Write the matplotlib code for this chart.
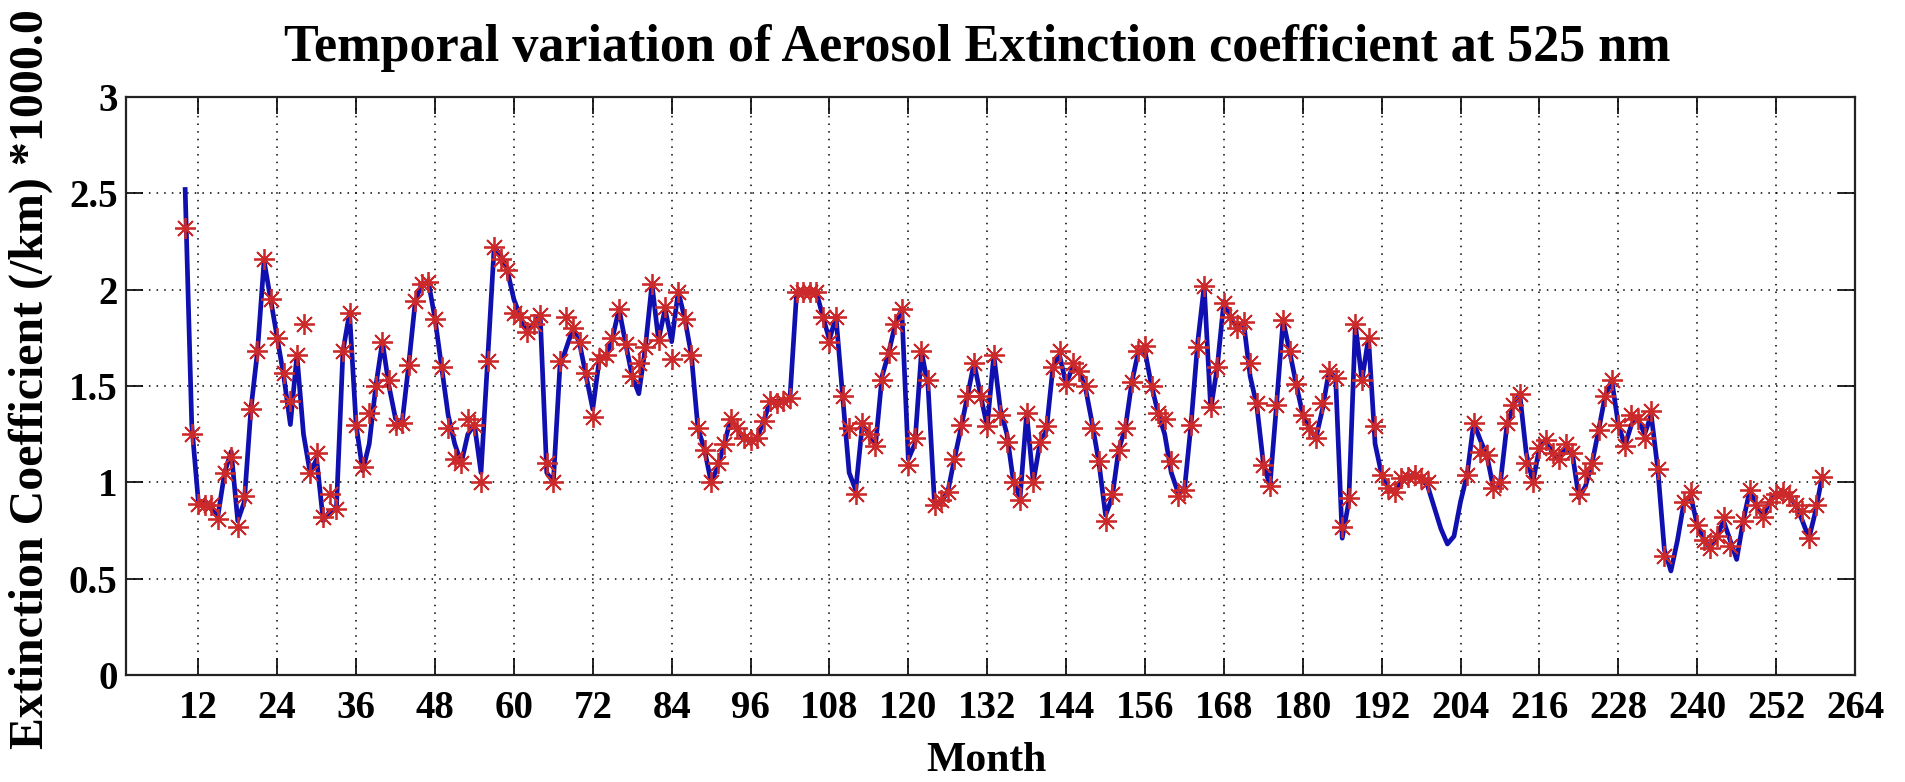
import numpy as np
import matplotlib
matplotlib.use("Agg")
import matplotlib.pyplot as plt

plt.rcParams['font.family'] = ['Liberation Serif', 'DejaVu Serif']
plt.rcParams['font.weight'] = 'bold'

# Month index of each monthly record
months = np.arange(10, 260)

# Fitted curve, one value per month (months 10..259)
curve = [
    2.52, 1.30, 0.90, 0.90, 0.86, 0.83, 1.05, 1.16, 0.80, 0.90,
    1.38, 1.68, 2.15, 1.95, 1.75, 1.55, 1.30, 1.66, 1.25, 1.05,
    1.12, 0.80, 0.85, 0.86, 1.68, 1.88, 1.30, 1.06, 1.20, 1.50,
    1.73, 1.50, 1.33, 1.31, 1.61, 1.94, 2.03, 2.04, 1.85, 1.60,
    1.35, 1.20, 1.10, 1.25, 1.30, 1.05, 1.63, 2.22, 2.18, 2.10,
    1.95, 1.86, 1.78, 1.82, 1.87, 1.05, 1.00, 1.60, 1.70, 1.80,
    1.72, 1.55, 1.38, 1.64, 1.65, 1.75, 1.90, 1.72, 1.55, 1.46,
    1.70, 2.03, 1.74, 1.90, 1.73, 1.99, 1.85, 1.66, 1.28, 1.17,
    1.00, 1.08, 1.20, 1.33, 1.28, 1.22, 1.22, 1.23, 1.32, 1.42,
    1.42, 1.42, 1.44, 1.98, 1.99, 1.99, 1.99, 1.86, 1.74, 1.86,
    1.45, 1.05, 0.96, 1.30, 1.25, 1.19, 1.55, 1.67, 1.82, 1.90,
    1.12, 1.20, 1.68, 1.50, 0.88, 0.90, 0.95, 1.12, 1.28, 1.45,
    1.62, 1.45, 1.29, 1.66, 1.38, 1.25, 1.00, 0.92, 1.36, 1.00,
    1.20, 1.27, 1.60, 1.66, 1.51, 1.60, 1.58, 1.48, 1.30, 1.10,
    0.83, 0.92, 1.17, 1.28, 1.52, 1.68, 1.68, 1.50, 1.36, 1.25,
    1.05, 0.95, 0.96, 1.30, 1.72, 2.02, 1.38, 1.60, 1.94, 1.86,
    1.80, 1.83, 1.55, 1.40, 1.10, 0.98, 1.40, 1.84, 1.68, 1.51,
    1.35, 1.28, 1.23, 1.38, 1.58, 1.54, 0.71, 0.90, 1.82, 1.53,
    1.75, 1.20, 1.04, 0.97, 0.95, 1.00, 1.03, 1.04, 1.02, 0.98,
    0.87, 0.76, 0.68, 0.72, 0.90, 1.04, 1.31, 1.22, 1.14, 0.97,
    0.98, 1.28, 1.40, 1.46, 1.15, 1.00, 1.18, 1.22, 1.15, 1.12,
    1.18, 1.15, 0.92, 0.98, 1.10, 1.27, 1.45, 1.53, 1.30, 1.19,
    1.30, 1.33, 1.25, 1.35, 1.07, 0.65, 0.54, 0.70, 0.90, 0.93,
    0.78, 0.70, 0.66, 0.72, 0.80, 0.70, 0.60, 0.80, 0.96, 0.88,
    0.82, 0.90, 0.94, 0.95, 0.93, 0.88, 0.80, 0.71, 0.85, 1.03,
]

# Measured monthly values (nan = no measurement that month)
nan = np.nan
measured = [
    2.32, 1.25, 0.89, 0.88, 0.88, 0.81, 1.05, 1.13, 0.77, 0.93,
    1.38, 1.68, 2.16, 1.95, 1.75, 1.57, 1.42, 1.66, 1.82, 1.05,
    1.15, 0.82, 0.94, 0.86, 1.68, 1.88, 1.30, 1.08, 1.36, 1.50,
    1.73, 1.53, 1.30, 1.31, 1.61, 1.94, 2.03, 2.04, 1.85, 1.60,
    1.28, 1.12, 1.10, 1.33, 1.30, 1.00, 1.63, 2.22, 2.16, 2.10,
    1.88, 1.86, 1.78, 1.82, 1.87, 1.10, 1.00, 1.63, 1.86, 1.80,
    1.73, 1.57, 1.34, 1.64, 1.66, 1.75, 1.90, 1.72, 1.55, 1.62,
    1.70, 2.03, 1.74, 1.91, 1.64, 1.99, 1.85, 1.66, 1.28, 1.17,
    1.00, 1.10, 1.20, 1.33, 1.28, 1.23, 1.22, 1.23, 1.32, 1.42,
    1.41, 1.42, 1.44, 1.99, 1.99, 1.99, 1.99, 1.86, 1.73, 1.86,
    1.45, 1.28, 0.94, 1.31, 1.25, 1.19, 1.53, 1.67, 1.82, 1.90,
    1.09, 1.23, 1.68, 1.53, 0.88, 0.91, 0.95, 1.12, 1.30, 1.45,
    1.62, 1.45, 1.29, 1.66, 1.35, 1.21, 1.00, 0.91, 1.36, 1.00,
    1.21, 1.29, 1.60, 1.68, 1.51, 1.62, 1.58, 1.50, 1.28, 1.11,
    0.80, 0.94, 1.17, 1.28, 1.52, 1.68, 1.71, 1.50, 1.36, 1.33,
    1.11, 0.93, 0.96, 1.30, 1.70, 2.02, 1.39, 1.60, 1.93, 1.86,
    1.80, 1.83, 1.62, 1.41, 1.09, 0.98, 1.40, 1.84, 1.68, 1.51,
    1.35, 1.28, 1.23, 1.41, 1.58, 1.54, 0.77, 0.92, 1.82, 1.53,
    1.75, 1.29, 1.04, 0.97, 0.95, 1.02, 1.03, 1.04, 1.02, 1.00,
    nan, nan, nan, nan, nan, 1.04, 1.31, 1.16, 1.14, 0.97,
    1.00, 1.31, 1.40, 1.46, 1.10, 1.00, 1.18, 1.22, 1.15, 1.12,
    1.20, 1.15, 0.94, 1.05, 1.10, 1.27, 1.45, 1.53, 1.30, 1.19,
    1.35, 1.33, 1.23, 1.37, 1.07, 0.62, nan, nan, 0.90, 0.95,
    0.78, 0.70, 0.66, 0.72, 0.82, 0.67, nan, 0.80, 0.96, 0.88,
    0.82, 0.90, 0.94, 0.95, 0.93, 0.88, 0.85, 0.71, 0.88, 1.03,
]

x_ticks = list(range(12, 265, 12))
y_ticks = [0, 0.5, 1, 1.5, 2, 2.5, 3]
y_tick_labels = ['0', '0.5', '1', '1.5', '2', '2.5', '3']

title = 'Temporal variation of Aerosol Extinction coefficient at 525 nm'
x_label = 'Month'
y_label = 'Extinction Coefficient (/km) *1000.0'

W, H = 1905, 782
fig = plt.figure(figsize=(W / 100, H / 100), dpi=100)
fig.patch.set_facecolor('white')
ax = fig.add_axes([126 / W, 1 - 675 / H, (1855 - 126) / W, (675 - 97) / H])

ax.plot(months, curve, color='#1010b0', lw=3.4, zorder=3)
ax.plot(months, measured, ls='none', marker=(8, 2, 0), ms=15,
        mec='#cc2a2a', mew=1.3, zorder=4)

ax.set_xlim(1, 264)
ax.set_ylim(0, 3)
ax.set_xticks(x_ticks)
ax.set_xticklabels([str(t) for t in x_ticks])
ax.set_yticks(y_ticks)
ax.set_yticklabels(y_tick_labels)

ax.grid(True, color='black', linewidth=1.1, linestyle=(0, (1, 4)))
ax.set_axisbelow(True)
for s in ax.spines.values():
    s.set_linewidth(1.6)
    s.set_color('#222222')

ax.tick_params(axis='both', which='major', direction='in', length=12,
               width=1.2, top=True, right=True, labelsize=28)
ax.tick_params(axis='x', pad=11)
ax.tick_params(axis='y', pad=6)

fig.text(977 / W, 1 - 61 / H, title, ha='center', va='baseline',
         fontsize=37.5, fontweight='bold')
fig.text(986 / W, 1 - 761 / H, x_label, ha='center', va='center',
         fontsize=30, fontweight='bold')
fig.text(31 / W, 1 - 379 / H, y_label, ha='center', va='center', rotation=90,
         fontsize=34.5, fontweight='bold')

fig.savefig('out.png', dpi=100, facecolor='white')
